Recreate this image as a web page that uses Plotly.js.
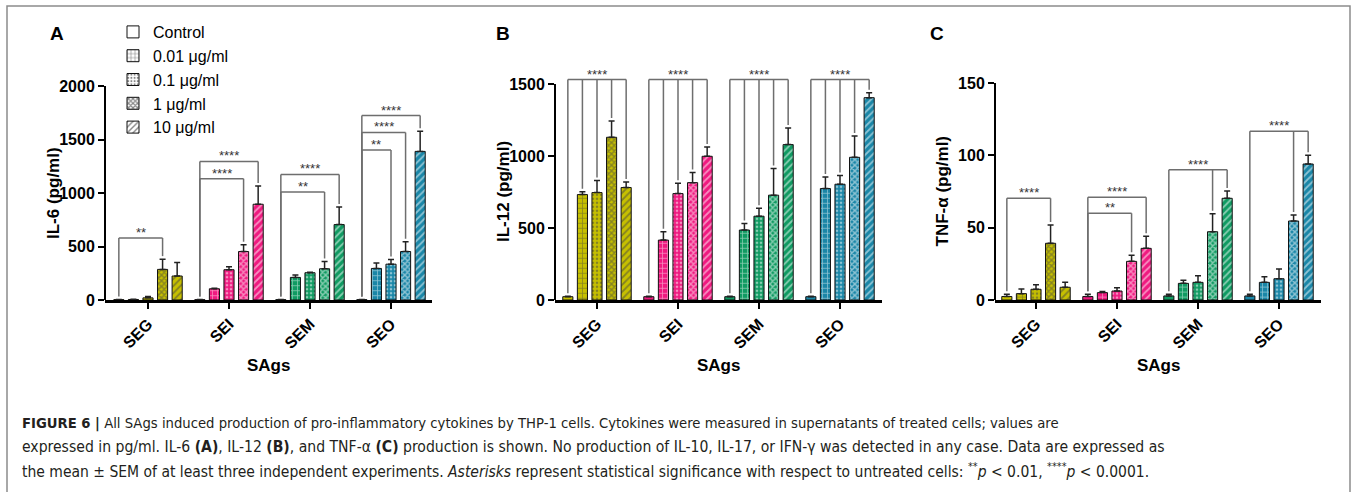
<!DOCTYPE html>
<html><head><meta charset="utf-8">
<script src="https://cdn.plot.ly/plotly-3.0.1.min.js"></script>
<style>html,body{margin:0;padding:0;background:#fff}</style>
</head><body><div id="chart" style="width:1357px;height:492px"></div>
<script>
// ---------- data ----------
const sags = ['SEG', 'SEI', 'SEM', 'SEO'];
const concentrations = ['Control', '0.01 μg/ml', '0.1 μg/ml', '1 μg/ml', '10 μg/ml'];
// rows: SAg (SEG, SEI, SEM, SEO); columns: concentration (Control .. 10 μg/ml)
const il6Mean = [[3, 5, 20, 286, 224], [3, 105, 283, 453, 895], [3, 211, 255, 292, 705], [3, 295, 335, 453, 1389]];
const il6Sem = [[2, 3, 12, 96, 127], [2, 5, 28, 63, 170], [2, 22, 5, 68, 165], [2, 50, 44, 91, 189]];
const il12Mean = [[23, 732, 746, 1130, 781], [23, 416, 739, 815, 998], [23, 486, 582, 728, 1079], [23, 774, 804, 991, 1405]];
const il12Sem = [[3, 19, 83, 113, 39], [3, 58, 71, 70, 64], [3, 46, 56, 185, 115], [3, 81, 60, 148, 34]];
const tnfMean = [[2.4, 4.4, 7.4, 39.2, 8.8], [2.4, 5.1, 6.2, 26.7, 35.7], [2.8, 11.5, 12.2, 47.2, 70.3], [2.8, 12.2, 14.7, 54.6, 94]];
const tnfSem = [[1.5, 3.2, 3.2, 12.6, 3.4], [1.5, 0.7, 2.3, 4.2, 8.3], [1.1, 2.1, 4.6, 12.5, 5], [1.1, 3.9, 6.7, 4.2, 6]];
// significance brackets: [SAg index, compared bars, bracket level, label]
const il6Sig = [[0, [3], 580, '**'], [1, [3], 1134, '****'], [1, [4], 1295, '****'],
  [2, [3], 1009, '**'], [2, [4], 1174, '****'],
  [3, [2], 1401, '**'], [3, [3], 1566, '****'], [3, [4], 1724, '****']];
const il12Sig = [[0, [1, 2, 3, 4], 1531, '****'], [1, [1, 2, 3, 4], 1531, '****'],
  [2, [1, 2, 3, 4], 1531, '****'], [3, [1, 2, 3, 4], 1531, '****']];
const tnfSig = [[0, [3], 70.3, '****'], [1, [3], 60, '**'], [1, [4], 71, '****'],
  [2, [3, 4], 90, '****'], [3, [3, 4], 116.6, '****']];
const il6Ticks = [0, 500, 1000, 1500, 2000];
const il12Ticks = [0, 500, 1000, 1500];
const tnfTicks = [0, 50, 100, 150];

// ---------- style ----------
const W = 1357, H = 492;
const sagColors = ['#c6c000', '#ef1a80', '#109a62', '#1a86a7'];
const patShapes = ['', '+', '.', 'x', '/'];
const patSize = [8, 5, 4, 4, 5];
const patSolid = [0.3, 0.28, 0.35, 0.6, 0.35];
const SLOT = 0.18, BW = 0.125, EXT = 1.2, BOTTOM = 300, PITCH = 81;
const FONT = '"Liberation Sans", Arial, Helvetica, sans-serif';
const CAPFONT = '"DejaVu Sans Condensed", "Liberation Sans Narrow", sans-serif';

const panels = [
  {letter: 'A', mean: il6Mean, sem: il6Sem, sig: il6Sig, ticks: il6Ticks, title: 'IL-6 (pg/ml)', left: 105, right: 432, c0: 148, topPx: 86, titleX: 53, letterX: 57},
  {letter: 'B', mean: il12Mean, sem: il12Sem, sig: il12Sig, ticks: il12Ticks, title: 'IL-12 (pg/ml)', left: 555, right: 882, c0: 597, topPx: 84, titleX: 503, letterX: 503},
  {letter: 'C', mean: tnfMean, sem: tnfSem, sig: tnfSig, ticks: tnfTicks, title: 'TNF-α (pg/ml)', left: 995, right: 1321, c0: 1036, topPx: 83, titleX: 942, letterX: 937}
];

const traces = [], shapes = [], annotations = [];
const layout = {
  width: W, height: H, margin: {l: 0, r: 0, t: 0, b: 0},
  paper_bgcolor: '#fff', plot_bgcolor: 'rgba(0,0,0,0)',
  barmode: 'overlay', hovermode: false,
  font: {family: FONT, color: '#000'},
  showlegend: true,
  legend: {x: 113 / W, y: 1 - 15 / H, xanchor: 'left', yanchor: 'top', bgcolor: 'rgba(0,0,0,0)',
    font: {family: FONT, size: 16, color: '#000'}, traceorder: 'normal', tracegroupgap: 0}
};

panels.forEach((p, i) => {
  const xid = i === 0 ? 'x' : 'x' + (i + 1);
  const yid = i === 0 ? 'y' : 'y' + (i + 1);
  const xkey = i === 0 ? 'xaxis' : 'xaxis' + (i + 1);
  const ykey = i === 0 ? 'yaxis' : 'yaxis' + (i + 1);
  const topTick = p.ticks[p.ticks.length - 1];
  const domTopPx = BOTTOM - (BOTTOM - p.topPx) * EXT;
  const unitPerPx = topTick / (BOTTOM - p.topPx);
  const gap = 3 * unitPerPx;

  layout[xkey] = {
    domain: [p.left / W, p.right / W], anchor: yid,
    range: [(p.left - p.c0) / PITCH, (p.right - p.c0) / PITCH],
    tickmode: 'array', tickvals: [0, 1, 2, 3], ticktext: sags, tickangle: -45,
    ticks: 'outside', ticklen: 6, tickwidth: 2, tickcolor: '#000',
    showline: true, linecolor: '#000', linewidth: 2.5,
    showgrid: false, zeroline: false,
    tickfont: {family: FONT, size: 16, weight: 700, color: '#000'}
  };
  layout[ykey] = {
    domain: [1 - BOTTOM / H, 1 - domTopPx / H], anchor: xid,
    range: [0, topTick * EXT],
    tickmode: 'array', tickvals: p.ticks,
    ticks: 'outside', ticklen: 6, tickwidth: 2, tickcolor: '#000',
    showline: false, showgrid: false, zeroline: false,
    tickfont: {family: FONT, size: 16, weight: 700, color: '#000'}
  };

  // y axis line, from 0 to the last tick
  shapes.push({type: 'line', xref: 'paper', yref: yid, x0: p.left / W, x1: p.left / W, y0: 0, y1: topTick,
    line: {color: '#000', width: 2}});

  for (let k = 0; k < 5; k++) {
    const marker = {color: sagColors, line: {color: '#111', width: 1}};
    if (patShapes[k]) marker.pattern = {shape: patShapes[k], fgcolor: '#111', fillmode: 'overlay', size: patSize[k], solidity: patSolid[k]};
    traces.push({
      type: 'bar', xaxis: xid, yaxis: yid, showlegend: false,
      x: [0, 1, 2, 3], y: p.mean.map(r => r[k]),
      offset: (k - 2) * SLOT - BW / 2, width: BW,
      marker: marker,
      error_y: {type: 'data', symmetric: false, array: p.sem.map(r => r[k]), arrayminus: [0, 0, 0, 0],
        color: '#222', thickness: 1.5, width: 3}
    });
  }

  p.sig.forEach(s => {
    const g = s[0], targets = s[1], level = s[2], label = s[3];
    const xc = g - 2 * SLOT;
    const xr = g + (Math.max(...targets) - 2) * SLOT;
    const ln = {color: '#6e6e6e', width: 1.5};
    shapes.push({type: 'line', xref: xid, yref: yid, x0: xc, x1: xr, y0: level, y1: level, line: ln});
    shapes.push({type: 'line', xref: xid, yref: yid, x0: xc, x1: xc, y0: level, y1: p.mean[g][0] + p.sem[g][0] + gap, line: ln});
    targets.forEach(t => {
      const xt = g + (t - 2) * SLOT;
      shapes.push({type: 'line', xref: xid, yref: yid, x0: xt, x1: xt, y0: level, y1: p.mean[g][t] + p.sem[g][t] + gap, line: ln});
    });
    annotations.push({xref: xid, yref: yid, x: (xc + xr) / 2, y: level, yanchor: 'bottom', yshift: -4,
      text: label, showarrow: false, font: {family: FONT, size: 13, color: '#333'}});
  });

  // axis titles and panel letters
  annotations.push({xref: 'paper', yref: 'paper', x: p.titleX / W, y: 1 - ((BOTTOM + p.topPx) / 2) / H,
    text: p.title, textangle: -90, showarrow: false, xanchor: 'center', yanchor: 'middle',
    font: {family: FONT, size: 17, weight: 700, color: '#000'}});
  annotations.push({xref: 'paper', yref: 'paper', x: ((p.left + p.right) / 2) / W, y: 1 - 365 / H,
    text: 'SAgs', showarrow: false, xanchor: 'center', yanchor: 'middle',
    font: {family: FONT, size: 17, weight: 700, color: '#000'}});
  annotations.push({xref: 'paper', yref: 'paper', x: p.letterX / W, y: 1 - 33 / H,
    text: p.letter, showarrow: false, xanchor: 'center', yanchor: 'middle',
    font: {family: FONT, size: 19, weight: 700, color: '#000'}});
});

// legend entries (key boxes only)
for (let k = 0; k < 5; k++) {
  const marker = {color: '#ffffff', line: {color: '#111', width: 1}};
  if (patShapes[k]) marker.pattern = {shape: patShapes[k], fgcolor: '#111', fillmode: 'overlay', size: patSize[k], solidity: patSolid[k]};
  traces.push({type: 'bar', xaxis: 'x', yaxis: 'y', x: [null], y: [null], name: concentrations[k], marker: marker, showlegend: true});
}

// figure frame
shapes.push({type: 'rect', xref: 'paper', yref: 'paper', x0: 7 / W, x1: 1350 / W, y0: 1 - 520 / H, y1: 1 - 6 / H,
  line: {color: '#8c8c8c', width: 1.5}, fillcolor: 'rgba(0,0,0,0)'});

// caption
const captionLines = [
  '<b>FIGURE 6 |</b> All SAgs induced production of pro-inflammatory cytokines by THP-1 cells. Cytokines were measured in supernatants of treated cells; values are',
  'expressed in pg/ml. IL-6 <b>(A)</b>, IL-12 <b>(B)</b>, and TNF-α <b>(C)</b> production is shown. No production of IL-10, IL-17, or IFN-γ was detected in any case. Data are expressed as',
  'the mean ± SEM of at least three independent experiments. <i>Asterisks</i> represent statistical significance with respect to untreated cells: <sup>**</sup><i>p</i> &lt; 0.01, <sup>****</sup><i>p</i> &lt; 0.0001.'
];
const captionY = [423, 447, 470];
const captionSize = [14.7, 15.6, 15.5];
captionLines.forEach((t, j) => {
  annotations.push({xref: 'paper', yref: 'paper', x: 20 / W, y: 1 - captionY[j] / H, xanchor: 'left', yanchor: 'middle',
    text: t, showarrow: false, align: 'left',
    font: {family: CAPFONT, size: captionSize[j], color: '#231f20'}});
});

layout.shapes = shapes;
layout.annotations = annotations;
Plotly.newPlot('chart', traces, layout, {displayModeBar: false, staticPlot: true});
</script></body></html>
